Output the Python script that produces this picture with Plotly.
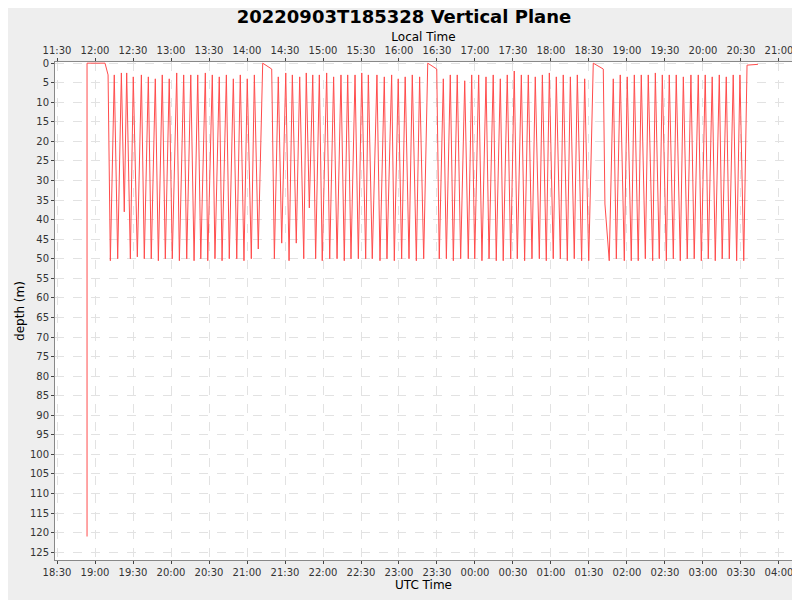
import plotly.graph_objects as go
import pandas as pd

# minutes after 2022-09-03 18:00 UTC, and depth (m) at turning points
start_min = [53.7, 53.7, 67.9, 68.7, 70.3]
start_dep = [121, 0, 0, 1, 3]
seg1_min = [72.1,75.2,77.9,80.8,83.1,85.0,87.9,90.2,93.4,96.6,98.9,102.1,104.4,107.6,110.0,113.1,115.5,118.6,121.0,124.5,126.6,130.0,132.4,135.6,138.2,141.1,143.5,147.1,149.0,152.6,154.7,158.1,160.3,163.7,166.0,169.2,171.9,174.7,177.6,180.2,183.4,185.8,188.9,192.4,199.5]
seg1_dep = [50.5,3,50,2.5,38,2.5,50,3.5,49.5,3,50,3.5,50,4,50.5,3,50,4,50,2.5,50.5,3,50,3,50.5,3,50,2.5,50.5,3,50,3.5,50.5,3,50,4,50,3,50.5,4,50,3,47.5,0,1.5]
seg2_min = [201.6,204.7,207.4,210.6,213.2,215.8,218.9,221.6,224.8,226.8,229.2,231.9,234.2,237.1,239.4,242.9,245.3,248.4,251.1,254.2,256.8,259.5,262.1,265.3,267.9,270.6,273.7,275.8,278.9,282.6,285.0,288.4,290.5,294.2,296.3,299.4,302.1,304.9,307.9,310.5,313.7,316.3,319.5,322.7,329.8]
seg2_dep = [50,3.5,46,2.5,50.5,3,46,3.5,50,2.5,37,3,50,3,50.5,2.5,50,3.5,50,3,50.5,3,50,3,50,2.5,50,3,50,3,50.5,3.5,50,3,50.5,4,50,3.5,50,3,50.5,3.5,50,0,1.5]
seg3_min = [331.8,335.0,337.4,340.5,342.9,346.0,348.7,351.9,354.7,357.4,359.8,362.9,365.5,368.7,371.1,374.4,376.8,380.0,382.3,385.5,388.2,391.0,393.4,396.6,399.2,402.1,405.0,407.6,410.8,413.2,416.3,418.7,421.8,424.2,427.4,429.7,432.9,435.3,438.4,440.8,444.2,446.6,449.8,453.4,461.3,462.6]
seg3_dep = [50,4,50,3,50.5,3,50,4.5,50,3,50,3,50.5,3.5,50,3,50.5,4,50.5,3,50,2,50,3,50.5,3,50,3.5,50,3,50.5,2.5,50,3.5,50,3,50.5,3.5,50,3,50.5,4,50.5,0,1.5,36]
seg4_min = [466.0,469.2,471.6,474.7,477.9,480.2,483.4,485.8,488.9,491.3,494.5,496.8,500.3,502.4,505.5,507.9,511.1,513.4,516.6,518.9,522.1,524.5,527.6,530.5,533.1,536.3,538.7,541.8,544.2,547.3,549.7,552.9,555.2,558.4,560.8,563.9,566.6,569.2,572.2,573.5,574.8,583.4]
seg4_dep = [50.5,4,50,3,50.5,3.5,50.5,3,50.5,3,50,3,50.5,2.5,50,3,50.5,3,50,3,50.5,3.5,50,3,50,3,50.5,3,50,3.5,50.5,3,50,3.5,50,3,50.5,3,50.5,20,0.5,0.3]

base = pd.Timestamp("2022-09-03 18:00")
mins = start_min + seg1_min + seg2_min + seg3_min + seg4_min
deps = start_dep + seg1_dep + seg2_dep + seg3_dep + seg4_dep
times = [base + pd.Timedelta(minutes=m) for m in mins]

x0 = base + pd.Timedelta(minutes=28.4)
x1 = base + pd.Timedelta(minutes=610.3)
off = pd.Timedelta(hours=7)

fig = go.Figure()
fig.add_trace(go.Scatter(x=times, y=deps, mode="lines",
                         line=dict(color="#ff4c4c", width=1), showlegend=False))
fig.add_trace(go.Scatter(x=[x0 - off, x1 - off], y=[None, None], xaxis="x2",
                         mode="lines", showlegend=False, hoverinfo="skip"))

font_ax = dict(family="DejaVu Sans", size=10, color="#333")
tfont = dict(family="DejaVu Sans", size=12, color="black")
fig.update_layout(
    width=792, height=592,
    paper_bgcolor="#eeeeee", plot_bgcolor="white",
    margin=dict(l=47, r=8, t=54, b=40, autoexpand=False),
    title=dict(text="<b>20220903T185328 Vertical Plane</b>", x=0.5, y=0.996, yanchor="top", xanchor="center",
               font=dict(family="DejaVu Sans", size=18, color="black")),
    xaxis=dict(type="date", range=[x0, x1], dtick=30*60*1000, tickformat="%H:%M",
               tick0="2022-09-03 18:00", automargin=False,
               showgrid=True, gridcolor="#e2e2e2", griddash="dash",
               showline=True, linecolor="#888", ticks="outside", ticklen=3,
               tickfont=font_ax, title=dict(text="UTC Time", font=tfont, standoff=0),
               zeroline=False),
    xaxis2=dict(type="date", overlaying="x", side="top", range=[x0 - off, x1 - off],
                dtick=30*60*1000, tickformat="%H:%M", tick0="2022-09-03 11:00", automargin=False,
                showgrid=False, showline=True, linecolor="#888", ticks="outside", ticklen=3,
                tickfont=font_ax, title=dict(text="Local Time", font=tfont, standoff=0)),
    yaxis=dict(range=[127, -0.3], dtick=5, tick0=0, showgrid=True, gridcolor="#e2e2e2", griddash="dash",
               showline=True, linecolor="#888", ticks="outside", ticklen=3, zeroline=False, automargin=False,
               tickfont=font_ax, title=dict(text="depth (m)", font=tfont, standoff=2)),
)
fig.write_html("out.html")
